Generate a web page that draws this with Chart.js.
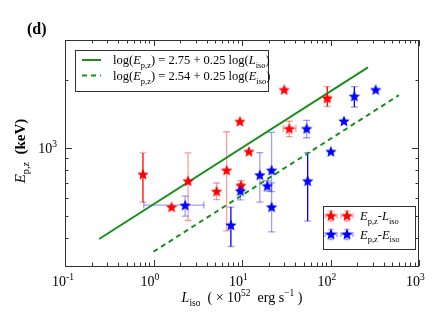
<!DOCTYPE html>
<html><head><meta charset="utf-8">
<script src="https://cdn.jsdelivr.net/npm/chart.js@4/dist/chart.umd.min.js"></script>
<style>html,body{margin:0;padding:0;background:#fff}#wrap{width:447px;height:333px;position:relative}</style>
</head><body><div id="wrap"><canvas id="c" width="447" height="333"></canvas></div>
<script>
// ---- data ----
const redL   = [0.76, 1.60, 2.46, 5.16, 6.70, 9.47, 11.97, 9.72, 34.2, 30.0, 92.0];
const redE   = [765, 548, 715, 643, 797, 1311, 965, 683, 1218, 1811, 1661];
const redEHi = [949, null, 949, 699, 1178, null, null, 715, 1311, null, 1866];
const redELo = [575, null, 477, 590, 429, null, null, 651, 1120, null, 1525];
const redLLo = [null, null, null, null, null, null, null, null, 29.2, null, 85];
const redLHi = [null, null, null, null, null, null, null, null, 40.7, null, 100];
const redSolid = [1, 0, 0, 0, 0, 0, 0, 0, 0, 0, 1];

const blueL   = [2.28, 7.49, 9.59, 15.9, 19.3, 21.6, 21.6, 55.2, 53.8, 142, 101, 186, 324];
const blueE   = [558, 456, 646, 760, 680, 797, 548, 715, 1218, 1316, 965, 1694, 1811];
const blueEHi = [611, 547, 692, 953, 715, 1170, 700, 953, 1324, null, null, 1866, null];
const blueELo = [499, 366, 588, 575, 643, 640, 425, 474, 1108, null, null, 1516, null];
const blueLLo = [0.777, null, null, null, null, null, null, null, null, null, null, null, null];
const blueLHi = [3.71, null, null, null, null, null, null, null, null, null, null, null, null];
const blueSolid = [0, 1, 0, 0, 0, 0, 0, 1, 0, 0, 0, 1, 0];

const fitLx = [0.243, 265];
const fitLy = [395, 2270];
const fitEx = [1.0, 594];
const fitEy = [347, 1710];

const xMajor = [0.1, 1, 10, 100, 1000];
const xMajorExp = ['-1', '0', '1', '2', '3'];
const xMinor = [0.2,0.3,0.4,0.5,0.6,0.7,0.8,0.9,2,3,4,5,6,7,8,9,20,30,40,50,60,70,80,90,200,300,400,500,600,700,800,900];
const yMajor = [1000];
const yMajorExp = ['3'];
const yMinor = [300,400,500,600,700,800,900,2000,3000];

const fitLabels = [
  [{t:'log('},{t:'E',i:1},{t:'p,z',sub:1},{t:') = 2.75 + 0.25 log('},{t:'L',i:1},{t:'iso',sub:1},{t:')'}],
  [{t:'log('},{t:'E',i:1},{t:'p,z',sub:1},{t:') = 2.54 + 0.25 log('},{t:'E',i:1},{t:'iso',sub:1},{t:')'}]
];
const ptLabels = [
  [{t:'E',i:1},{t:'p,z',sub:1},{t:'-'},{t:'L',i:1},{t:'iso',sub:1}],
  [{t:'E',i:1},{t:'p,z',sub:1},{t:'-'},{t:'E',i:1},{t:'iso',sub:1}]
];
const xTitle = [{t:'L',i:1},{t:'iso',sub:1},{t:'  ( × 10'},{t:'52',sup:1},{t:'  erg s'},{t:'−1',sup:1},{t:' )'}];
const yTitle = [{t:'E',i:1},{t:'p,z',sub:1},{t:'  '},{t:'(keV)',b:1}];

// ---- styles ----
const SERIF = '"Liberation Serif","Times New Roman",serif';
const GREEN = '#16901a';
const RED = '#ff0000', BLUE = '#0000ff';
const PALE = {r:'rgba(255,0,0,0.38)', b:'rgba(0,0,255,0.38)'};

function starImg(color){
  const s = 14, c = document.createElement('canvas');
  c.width = s; c.height = s;
  const g = c.getContext('2d');
  g.fillStyle = color;
  g.beginPath();
  const R = 6, r = 2.7;
  for (let i = 0; i < 10; i++) {
    const a = -Math.PI/2 + i*Math.PI/5, rad = i%2 ? r : R;
    g.lineTo(s/2 + rad*Math.cos(a), s/2 + 0.6 + rad*Math.sin(a));
  }
  g.closePath(); g.fill();
  return c;
}
const redStar = starImg(RED), blueStar = starImg(BLUE);

function fontFor(p, size){
  const s = (p.sub||p.sup) ? size*0.68 : size;
  return (p.i?'italic ':'') + (p.b?'bold ':'') + s.toFixed(1)+'px '+SERIF;
}
function richWidth(ctx, parts, size){
  let w = 0;
  for (const p of parts){ ctx.font = fontFor(p,size); w += ctx.measureText(p.t).width; }
  return w;
}
function drawRich(ctx, x, y, parts, size, align){
  let w = richWidth(ctx, parts, size);
  let cx = align==='center' ? x - w/2 : (align==='right' ? x - w : x);
  ctx.textBaseline = 'alphabetic'; ctx.textAlign = 'left';
  for (const p of parts){
    ctx.font = fontFor(p,size);
    let dy = p.sub ? size*0.28 : (p.sup ? -size*0.42 : 0);
    ctx.fillText(p.t, cx, y+dy);
    cx += ctx.measureText(p.t).width;
  }
}

function drawErr(ctx, xs, ys, L, E, LLo, LHi, ELo, EHi, solid, color, pale){
  for (let i = 0; i < L.length; i++){
    const px = xs.getPixelForValue(L[i]), py = ys.getPixelForValue(E[i]);
    const col = solid[i] ? color : pale;
    ctx.lineWidth = 1.3;
    if (EHi[i] != null){
      const y1 = ys.getPixelForValue(EHi[i]), y2 = ys.getPixelForValue(ELo[i]);
      ctx.strokeStyle = col;
      ctx.beginPath(); ctx.moveTo(px, y1); ctx.lineTo(px, y2); ctx.stroke();
      ctx.strokeStyle = pale;
      ctx.beginPath(); ctx.moveTo(px-3.5, y1); ctx.lineTo(px+3.5, y1); ctx.moveTo(px-3.5, y2); ctx.lineTo(px+3.5, y2); ctx.stroke();
    }
    if (LHi[i] != null){
      const x1 = xs.getPixelForValue(LLo[i]), x2 = xs.getPixelForValue(LHi[i]);
      ctx.strokeStyle = col;
      ctx.beginPath(); ctx.moveTo(x1, py); ctx.lineTo(x2, py); ctx.stroke();
      ctx.strokeStyle = pale;
      ctx.beginPath(); ctx.moveTo(x1, py-3.5); ctx.lineTo(x1, py+3.5); ctx.moveTo(x2, py-3.5); ctx.lineTo(x2, py+3.5); ctx.stroke();
    }
  }
}

const deco = {
  id:'deco',
  beforeDatasetsDraw(chart){
    const ctx = chart.ctx, xs = chart.scales.x, ys = chart.scales.y;
    ctx.save();
    drawErr(ctx, xs, ys, redL, redE, redLLo, redLHi, redELo, redEHi, redSolid, RED, PALE.r);
    drawErr(ctx, xs, ys, blueL, blueE, blueLLo, blueLHi, blueELo, blueEHi, blueSolid, BLUE, PALE.b);
    ctx.restore();
  },
  afterDraw(chart){
    const ctx = chart.ctx, a = chart.chartArea, xs = chart.scales.x, ys = chart.scales.y;
    ctx.save();
    // frame
    ctx.strokeStyle = '#333'; ctx.lineWidth = 1;
    ctx.strokeRect(Math.round(a.left)+0.5, Math.round(a.top)+0.5, Math.round(a.right-a.left)-1, Math.round(a.bottom-a.top));
    // ticks
    ctx.beginPath();
    const tx = (v, len) => { const p = Math.round(xs.getPixelForValue(v))+0.5;
      ctx.moveTo(p, a.bottom); ctx.lineTo(p, a.bottom-len); ctx.moveTo(p, a.top); ctx.lineTo(p, a.top+len); };
    const ty = (v, len) => { const p = Math.round(ys.getPixelForValue(v))+0.5;
      ctx.moveTo(a.left, p); ctx.lineTo(a.left+len, p); ctx.moveTo(a.right, p); ctx.lineTo(a.right-len, p); };
    xMajor.forEach(v => tx(v, 6)); xMinor.forEach(v => tx(v, 3.5));
    yMajor.forEach(v => ty(v, 7)); yMinor.forEach(v => ty(v, 3.5));
    ctx.stroke();
    // tick labels
    ctx.fillStyle = '#000';
    xMajor.forEach((v,i) => {
      const p = xs.getPixelForValue(v);
      ctx.font = '14px '+SERIF; const w10 = ctx.measureText('10').width;
      drawRich(ctx, p - w10 + 1, a.bottom + 20, [{t:'10'},{t:xMajorExp[i],sup:1}], 14, 'left');
    });
    yMajor.forEach((v,i) => {
      const p = ys.getPixelForValue(v);
      drawRich(ctx, a.left - 8, p + 5, [{t:'10'},{t:yMajorExp[i],sup:1}], 14, 'right');
    });
    // axis titles
    drawRich(ctx, (a.left+a.right)/2, a.bottom + 36, xTitle, 14, 'center');
    ctx.save(); ctx.translate(25, (a.top+a.bottom)/2 - 2); ctx.rotate(-Math.PI/2);
    drawRich(ctx, 0, 0, yTitle, 15, 'center'); ctx.restore();
    // panel label
    ctx.font = 'bold 16px '+SERIF; ctx.textAlign = 'left'; ctx.fillText('(d)', 27, 34);
    // top-left legend
    const lx = a.left + 10, ly = a.top + 10;
    ctx.strokeStyle = '#333'; ctx.lineWidth = 1;
    ctx.strokeRect(lx+0.5, ly+0.5, 193, 41);
    ctx.strokeStyle = GREEN; ctx.lineWidth = 2;
    ctx.beginPath(); ctx.moveTo(lx+7, ly+10); ctx.lineTo(lx+26, ly+10); ctx.stroke();
    ctx.setLineDash([5,4]);
    ctx.beginPath(); ctx.moveTo(lx+7, ly+25.5); ctx.lineTo(lx+26, ly+25.5); ctx.stroke();
    ctx.setLineDash([]);
    ctx.fillStyle = '#000';
    drawRich(ctx, lx+38, ly+14, fitLabels[0], 12.5, 'left');
    drawRich(ctx, lx+38, ly+30, fitLabels[1], 12.5, 'left');
    // bottom-right legend
    const bx = a.right - 96, by = a.bottom - 60;
    ctx.strokeStyle = '#333'; ctx.lineWidth = 1;
    ctx.strokeRect(bx+0.5, by+0.5, 92, 43);
    [[redStar, PALE.r], [blueStar, PALE.b]].forEach((s, k) => {
      const yy = by + 10 + k*18.5;
      [bx+8, bx+24].forEach(cx => {
        ctx.strokeStyle = s[1]; ctx.lineWidth = 1.3;
        ctx.beginPath(); ctx.moveTo(cx-6, yy); ctx.lineTo(cx+6, yy); ctx.moveTo(cx, yy-5); ctx.lineTo(cx, yy+5);
        ctx.moveTo(cx-6, yy-2.5); ctx.lineTo(cx-6, yy+2.5); ctx.moveTo(cx+6, yy-2.5); ctx.lineTo(cx+6, yy+2.5);
        ctx.moveTo(cx-2.5, yy-5); ctx.lineTo(cx+2.5, yy-5); ctx.moveTo(cx-2.5, yy+5); ctx.lineTo(cx+2.5, yy+5);
        ctx.stroke();
        ctx.drawImage(s[0], cx-7, yy-7.6);
      });
      ctx.fillStyle = '#000';
      drawRich(ctx, bx+37, yy+4, ptLabels[k], 12.5, 'left');
    });
    ctx.restore();
  }
};

new Chart(document.getElementById('c').getContext('2d'), {
  type: 'scatter',
  data: { datasets: [
    { label:'Ep,z-Eiso', data: blueL.map((x,i)=>({x, y: blueE[i]})), pointStyle: blueStar, pointRadius: 6, showLine:false },
    { label:'Ep,z-Liso', data: redL.map((x,i)=>({x, y: redE[i]})), pointStyle: redStar, pointRadius: 6, showLine:false },
    { label:'fit L', type:'line', data: fitLx.map((x,i)=>({x, y: fitLy[i]})), borderColor: GREEN, borderWidth: 2, pointRadius: 0, fill:false },
    { label:'fit E', type:'line', data: fitEx.map((x,i)=>({x, y: fitEy[i]})), borderColor: GREEN, borderWidth: 2, borderDash:[5,4], pointRadius: 0, fill:false }
  ]},
  options: {
    responsive: false, animation: false, devicePixelRatio: 1,
    layout: { padding: { top: 40, right: 28, left: 0, bottom: 0 } },
    plugins: { legend: { display:false }, tooltip: { enabled:false } },
    scales: {
      x: { type:'logarithmic', min:0.1, max:1000, ticks:{display:false}, grid:{display:false}, border:{display:false},
           afterFit(s){ s.height = 67; s.paddingRight = 0; s.paddingLeft = 0; } },
      y: { type:'logarithmic', min:300, max:3000, ticks:{display:false}, grid:{display:false}, border:{display:false},
           afterFit(s){ s.width = 65; s.paddingTop = 0; s.paddingBottom = 0; } }
    }
  },
  plugins: [deco]
});
</script></body></html>
